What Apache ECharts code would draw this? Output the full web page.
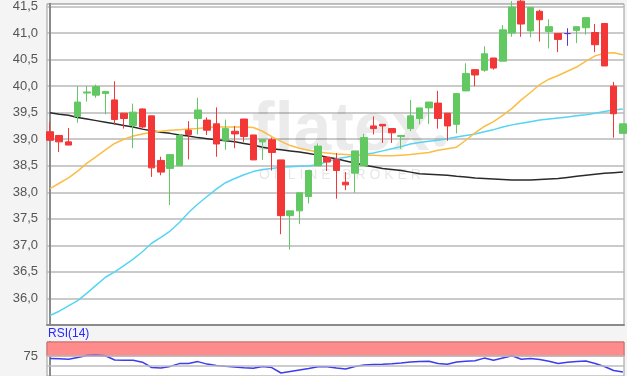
<!DOCTYPE html>
<html>
<head>
<meta charset="utf-8" />
<script src="https://cdn.jsdelivr.net/npm/echarts@6/dist/echarts.min.js"></script>
</head>
<body style="margin:0;">
<div id="chart" style="width:627px;height:376px;"></div>
<script>
// daily candles
var opens  = [39.14, 39.07, 38.95, 39.43, 39.87, 39.83, 39.86, 39.74, 39.49, 39.26,
              39.57, 39.44, 38.60, 38.45, 38.50, 39.17, 39.39, 39.36, 39.29, 38.98,
              39.15, 39.38, 39.08, 38.95, 38.99, 38.61, 37.56, 37.65, 37.92, 38.50,
              38.66, 38.62, 38.19, 38.36, 38.50, 39.25, 39.28, 39.20, 39.05, 39.20,
              39.39, 39.59, 39.68, 39.49, 39.28, 39.91, 40.31, 40.30, 40.53, 40.47,
              41.00, 41.60, 41.04, 41.41, 41.03, 40.99, 40.99, 41.05, 41.10, 41.01,
              41.18, 40.00, 39.11];
var closes = [38.98, 38.95, 38.89, 39.70, 39.89, 39.99, 39.90, 39.37, 39.39, 39.51,
              39.23, 38.46, 38.38, 38.71, 39.07, 39.09, 39.55, 39.17, 38.91, 39.20,
              39.10, 39.05, 38.61, 38.99, 38.75, 37.56, 37.65, 37.99, 38.41, 38.87,
              38.57, 38.41, 38.14, 38.78, 39.03, 39.20, 39.25, 39.12, 39.07, 39.44,
              39.59, 39.70, 39.39, 39.25, 39.86, 40.24, 40.21, 40.61, 40.34, 41.06,
              41.49, 41.17, 41.48, 41.25, 41.12, 40.88, 40.99, 41.12, 41.29, 40.78,
              40.38, 39.48, 39.29];
var lows   = [38.96, 38.76, 38.89, 39.31, 39.71, 39.78, 39.47, 39.27, 39.20, 38.83,
              39.20, 38.29, 38.32, 37.76, 38.50, 38.62, 39.09, 39.08, 38.67, 38.80,
              38.83, 38.95, 38.61, 38.61, 38.41, 37.21, 36.92, 37.40, 37.79, 38.50,
              38.40, 37.88, 38.04, 37.99, 38.50, 39.09, 38.93, 38.93, 38.82, 39.15,
              39.28, 39.29, 39.20, 38.97, 39.11, 39.91, 40.00, 40.27, 40.31, 40.47,
              40.93, 40.93, 40.92, 40.84, 40.71, 40.64, 40.76, 40.81, 40.97, 40.64,
              40.38, 39.03, 39.11];
var highs  = [39.32, 39.08, 39.21, 40.00, 40.00, 40.03, 39.90, 40.09, 39.49, 39.67,
              39.58, 39.44, 38.67, 38.71, 39.10, 39.34, 39.78, 39.41, 39.60, 39.37,
              39.25, 39.38, 39.08, 38.99, 39.03, 38.61, 37.65, 37.99, 38.41, 38.92,
              38.68, 38.74, 38.38, 38.78, 39.10, 39.43, 39.28, 39.20, 39.07, 39.74,
              39.59, 39.70, 39.91, 39.49, 39.86, 40.43, 40.31, 40.75, 40.53, 41.15,
              41.60, 41.65, 41.48, 41.44, 41.26, 40.99, 41.09, 41.12, 41.29, 41.17,
              41.18, 40.08, 39.29];

// moving averages
var maShort = [38.07, 38.17, 38.27, 38.40, 38.55, 38.67, 38.80, 38.92, 39.00, 39.06,
               39.10, 39.13, 39.15, 39.17, 39.18, 39.19, 39.20, 39.22, 39.23, 39.23,
               39.23, 39.23, 39.22, 39.15, 39.05, 38.96, 38.88, 38.83, 38.79, 38.76,
               38.74, 38.72, 38.71, 38.70, 38.70, 38.70, 38.69, 38.69, 38.70, 38.71,
               38.73, 38.75, 38.79, 38.82, 38.85, 38.98, 39.12, 39.24, 39.33, 39.45,
               39.58, 39.74, 39.88, 40.03, 40.13, 40.20, 40.28, 40.36, 40.47, 40.57,
               40.62, 40.63, 40.59];
var maMid   = [35.68, 35.76, 35.86, 35.96, 36.10, 36.25, 36.40, 36.50, 36.62, 36.74,
               36.88, 37.04, 37.15, 37.27, 37.43, 37.62, 37.78, 37.92, 38.06, 38.18,
               38.26, 38.33, 38.39, 38.43, 38.45, 38.47, 38.48, 38.49, 38.50, 38.52,
               38.58, 38.63, 38.66, 38.69, 38.71, 38.74, 38.78, 38.82, 38.86, 38.91,
               38.94, 38.96, 38.98, 39.01, 39.04, 39.07, 39.10, 39.14, 39.18, 39.23,
               39.27, 39.30, 39.33, 39.36, 39.38, 39.40, 39.42, 39.44, 39.46, 39.49,
               39.52, 39.55, 39.57];
var maLong  = [39.50, 39.47, 39.45, 39.41, 39.38, 39.35, 39.32, 39.29, 39.26, 39.23,
               39.19, 39.16, 39.13, 39.11, 39.08, 39.06, 39.03, 39.01, 38.99, 38.97,
               38.95, 38.92, 38.89, 38.85, 38.82, 38.80, 38.78, 38.76, 38.73, 38.70,
               38.66, 38.63, 38.59, 38.55, 38.51, 38.48, 38.45, 38.43, 38.41, 38.38,
               38.35, 38.34, 38.33, 38.32, 38.30, 38.29, 38.27, 38.26, 38.25, 38.24,
               38.23, 38.23, 38.23, 38.24, 38.25, 38.26, 38.28, 38.30, 38.32, 38.34,
               38.36, 38.37, 38.38];

// RSI(14)
var rsi = [72.6, 72.3, 71.7, 73.5, 75.5, 75.8, 75.2, 71.0, 70.7, 70.7,
           68.8, 63.5, 63.1, 64.6, 67.4, 67.6, 69.4, 66.9, 65.5, 64.7,
           64.0, 63.3, 62.8, 64.5, 63.4, 58.0, 59.5, 61.0, 62.5, 64.2,
           64.3, 63.0, 62.1, 64.5, 66.0, 66.6, 66.8, 67.3, 68.0, 69.1,
           69.5, 69.8, 67.5, 66.7, 69.0, 69.8, 70.2, 72.9, 70.8, 73.0,
           75.2, 71.7, 72.6, 71.4, 69.8, 67.6, 68.8, 69.6, 70.0, 67.5,
           64.5, 60.5, 59.0];

var candles = opens.map(function (o, i) {
  return [i, o, closes[i], lows[i], highs[i]];
});
function pts(arr) {
  return arr.map(function (v, i) { return [i, v]; });
}

var chart = echarts.init(document.getElementById('chart'));
var font = 'Liberation Sans, Arial, sans-serif';

chart.setOption({
  backgroundColor: '#f4f4f4',
  animation: false,
  grid: [
    { left: 47, top: 0, width: 577, height: 325, show: true,
      backgroundColor: '#fff', borderColor: '#9a9a9a', borderWidth: 1 },
    { left: 47, top: 342, width: 577, height: 35.7, show: true,
      backgroundColor: '#fff', borderColor: '#9a9a9a', borderWidth: 1 }
  ],
  xAxis: [
    { type: 'value', gridIndex: 0, min: -0.325, max: 62.12,
      axisLine: { show: true, onZero: false, lineStyle: { color: '#8a8a8a', width: 2 } },
      axisTick: { show: false }, axisLabel: { show: false }, splitLine: { show: false } },
    { type: 'value', gridIndex: 1, min: -0.325, max: 62.12,
      axisLine: { show: false }, axisTick: { show: false },
      axisLabel: { show: false }, splitLine: { show: false } }
  ],
  yAxis: [
    { type: 'value', gridIndex: 0, min: 35.5, max: 41.55, interval: 0.5,
      axisLine: { show: true, lineStyle: { color: '#8a8a8a', width: 2 } },
      axisTick: { show: false },
      axisLabel: {
        color: '#555', fontFamily: font, fontSize: 13, margin: 9,
        formatter: function (v) {
          if (v < 35.9 || Math.abs(v * 2 - Math.round(v * 2)) > 0.001) return '';
          return v.toFixed(1).replace('.', ',');
        }
      },
      splitLine: { lineStyle: { color: '#b8b8b8', width: 1.5 } } },
    { type: 'value', gridIndex: 1, min: 55, max: 89, interval: 5,
      axisLine: { show: true, lineStyle: { color: '#8a8a8a', width: 2 } },
      axisTick: { show: false },
      axisLabel: {
        color: '#555', fontFamily: font, fontSize: 13, margin: 9,
        formatter: function (v) { return v === 75 ? '75' : ''; }
      },
      splitLine: { show: false } }
  ],
  graphic: [
    { type: 'text', left: 252, top: 97, z: 1, silent: true,
      style: { text: 'flatex', fill: 'rgba(0,0,0,0.08)', font: 'bold 68px ' + font } },
    { type: 'circle', shape: { cx: 440, cy: 141, r: 6 }, z: 1, silent: true,
      style: { fill: 'rgba(0,0,0,0.08)' } },
    { type: 'text', left: 259, top: 168, z: 1, silent: true,
      style: { text: 'O N L I N E   B R O K E R', fill: 'rgba(0,0,0,0.1)', font: '14px ' + font } },
    { type: 'text', left: 48, top: 328, silent: true,
      style: { text: 'RSI(14)', fill: '#2828ff', font: '12px ' + font } }
  ],
  series: [
    { type: 'line', xAxisIndex: 0, yAxisIndex: 0, data: pts(maLong), showSymbol: false,
      lineStyle: { color: '#2a2a2a', width: 1.5 }, z: 3 },
    { type: 'line', xAxisIndex: 0, yAxisIndex: 0, data: pts(maMid), showSymbol: false,
      lineStyle: { color: '#55d4f4', width: 1.5 }, z: 3 },
    { type: 'line', xAxisIndex: 0, yAxisIndex: 0, data: pts(maShort), showSymbol: false,
      lineStyle: { color: '#fbbd45', width: 1.5 }, z: 3 },
    { type: 'candlestick', xAxisIndex: 0, yAxisIndex: 0, data: candles,
      encode: { x: 0, y: [1, 2, 3, 4] }, barWidth: 7, z: 4,
      itemStyle: { color: '#62c862', color0: '#f33636', borderColor: '#62c862',
        borderColor0: '#f33636', borderColorDoji: '#5a36d6', borderWidth: 1 } },
    { type: 'line', xAxisIndex: 1, yAxisIndex: 1, data: pts(rsi), showSymbol: false,
      lineStyle: { color: '#3c3cf0', width: 1.5 }, z: 4,
      markLine: { silent: true, symbol: 'none', label: { show: false },
        lineStyle: { color: '#bdbdbd', type: 'solid', width: 1.5 },
        data: [{ yAxis: 75 }, { yAxis: 65 }] },
      markArea: { silent: true,
        itemStyle: { color: '#ff8c8c', borderColor: '#cf6a6a', borderWidth: 1 },
        data: [[{ yAxis: 75 }, { yAxis: 89 }]] } }
  ]
});
</script>
</body>
</html>
